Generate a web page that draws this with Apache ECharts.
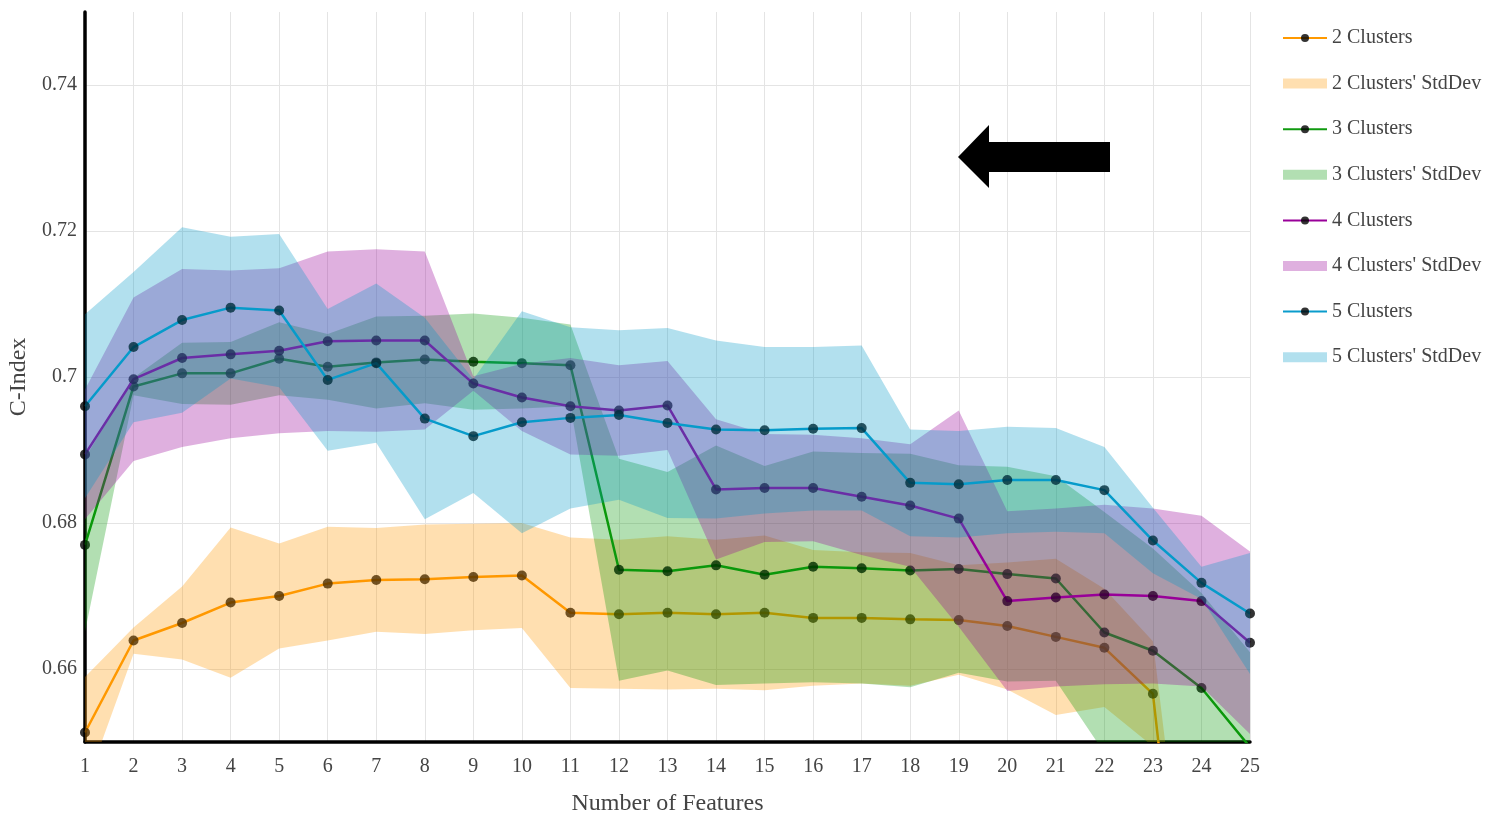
<!DOCTYPE html>
<html><head><meta charset="utf-8">
<script src="https://cdn.jsdelivr.net/npm/echarts@6/dist/echarts.min.js"></script>
<style>html,body{margin:0;padding:0;background:#fff}#c{width:1509px;height:816px}</style>
</head><body><div id="c"></div>
<script>
// ---- data ----
const features = [1,2,3,4,5,6,7,8,9,10,11,12,13,14,15,16,17,18,19,20,21,22,23,24,25];
const yTickLabels = ['0.66','0.68','0.7','0.72','0.74'];

const mean2 = [0.6513,0.6639,0.6663,0.6691,0.6700,0.6717,0.6722,0.6723,0.6726,0.6728,0.6677,0.6675,0.6677,0.6675,0.6677,0.6670,0.6670,0.6668,0.6667,0.6659,0.6644,0.6629,0.6566,0.5980,0.5900];
const std2  = [0.0076,0.0018,0.0050,0.0103,0.0072,0.0078,0.0071,0.0075,0.0073,0.0072,0.0103,0.0102,0.0105,0.0102,0.0106,0.0093,0.0090,0.0091,0.0075,0.0087,0.0107,0.0081,0.0072,0.0110,0.0100];

const mean3 = [0.6770,0.6987,0.7005,0.7005,0.7025,0.7014,0.7020,0.7024,0.7021,0.7019,0.7016,0.6736,0.6734,0.6742,0.6729,0.6740,0.6738,0.6735,0.6737,0.6730,0.6724,0.6650,0.6625,0.6574,0.6493];
const std3  = [0.0119,0.0012,0.0042,0.0043,0.0050,0.0045,0.0063,0.0060,0.0066,0.0062,0.0056,0.0152,0.0136,0.0164,0.0149,0.0158,0.0158,0.0160,0.0142,0.0147,0.0140,0.0165,0.0140,0.0130,0.0130];

const mean4 = [0.6894,0.6997,0.7026,0.7031,0.7036,0.7049,0.7050,0.7050,0.6991,0.6972,0.6960,0.6954,0.6961,0.6846,0.6848,0.6848,0.6836,0.6824,0.6806,0.6693,0.6698,0.6702,0.6700,0.6693,0.6636];
const std4  = [0.0089,0.0112,0.0122,0.0115,0.0113,0.0123,0.0125,0.0122,0.0010,0.0046,0.0066,0.0062,0.0061,0.0096,0.0074,0.0073,0.0080,0.0084,0.0148,0.0123,0.0122,0.0123,0.0120,0.0117,0.0125];

const mean5 = [0.6960,0.7041,0.7078,0.7095,0.7091,0.6996,0.7019,0.6943,0.6919,0.6938,0.6944,0.6948,0.6937,0.6928,0.6927,0.6929,0.6930,0.6855,0.6853,0.6859,0.6859,0.6845,0.6776,0.6718,0.6676];
const std5  = [0.0126,0.0103,0.0127,0.0097,0.0105,0.0097,0.0109,0.0138,0.0078,0.0152,0.0124,0.0116,0.0130,0.0122,0.0114,0.0112,0.0113,0.0073,0.0073,0.0073,0.0071,0.0059,0.0045,0.0022,0.0083];

// ---- chart ----
const FONT = '"Liberation Serif", "Times New Roman", serif';
const TXT = '#444';
const chart = echarts.init(document.getElementById('c'));

function lineSeries(name, mean, color, z) {
  return {
    name, type: 'line', z, clip: true, animation: false,
    data: features.map((f, i) => [f, mean[i]]),
    symbol: 'circle', symbolSize: 10, showSymbol: true,
    lineStyle: { color, width: 2.5 },
    itemStyle: { color: 'rgba(0,0,0,0.8)' },
    emphasis: { disabled: true }
  };
}
function bandSeries(name, mean, std, color, z) {
  const rows = features.map((f, i) => [f, mean[i] - std[i], mean[i] + std[i]]);
  return {
    name, type: 'custom', z, clip: true, silent: true, animation: false,
    data: rows, encode: { x: 0, y: [1, 2] },
    itemStyle: { color },
    renderItem(params, api) {
      if (params.dataIndex !== 0) return null;
      const up = rows.map(r => api.coord([r[0], r[2]]));
      const lo = rows.map(r => api.coord([r[0], r[1]])).reverse();
      return { type: 'polygon', shape: { points: up.concat(lo) }, style: { fill: color } };
    }
  };
}

const C2 = '#ff9900', B2 = 'rgba(255,153,0,0.31)';
const C3 = '#109a10', B3 = 'rgba(0,150,0,0.30)';
const C4 = '#990099', B4 = 'rgba(152,0,152,0.31)';
const C5 = '#0a9ccc', B5 = 'rgba(0,152,198,0.30)';

chart.setOption({
  animation: false,
  backgroundColor: '#fff',
  grid: { left: 85, right: 259, top: 12, bottom: 74, containLabel: false, outerBoundsMode: 'none' },
  xAxis: {
    type: 'value', min: 1, max: 25, interval: 1,
    name: 'Number of Features', nameLocation: 'middle', nameGap: 50,
    nameTextStyle: { fontFamily: FONT, fontSize: 24, color: TXT },
    axisLine: { show: true, onZero: false, lineStyle: { color: '#000', width: 3.5 } },
    axisTick: { show: false },
    axisLabel: { fontFamily: FONT, fontSize: 20, color: TXT, margin: 15 },
    splitLine: { show: true, lineStyle: { color: '#e4e4e4', width: 1 } }
  },
  yAxis: {
    type: 'value', min: 0.65, max: 0.75, interval: 0.01,
    name: 'C-Index', nameLocation: 'middle', nameGap: 53,
    nameTextStyle: { fontFamily: FONT, fontSize: 24, color: TXT },
    axisLine: { show: true, onZero: false, lineStyle: { color: '#000', width: 3.5 } },
    axisTick: { show: false },
    axisLabel: {
      fontFamily: FONT, fontSize: 20, color: TXT, margin: 8,
      formatter: v => { const s = String(Math.round(v * 100) / 100); return yTickLabels.includes(s) ? s : ''; }
    },
    splitLine: { show: true, lineStyle: { color: ['rgba(0,0,0,0)', '#e4e4e4'], width: 1 } }
  },
  legend: {
    orient: 'vertical', left: 1277, top: 23, itemWidth: 44, itemHeight: 10, itemGap: 25.6,
    selectedMode: false,
    textStyle: { fontFamily: FONT, fontSize: 20, color: TXT },
    data: [
      '2 Clusters', { name: "2 Clusters' StdDev", icon: 'rect' },
      '3 Clusters', { name: "3 Clusters' StdDev", icon: 'rect' },
      '4 Clusters', { name: "4 Clusters' StdDev", icon: 'rect' },
      '5 Clusters', { name: "5 Clusters' StdDev", icon: 'rect' }
    ]
  },
  graphic: [{
    type: 'polygon', silent: true, z: 100,
    shape: { points: [[958,157],[989,125],[989,142],[1110,142],[1110,172],[989,172],[989,188]] },
    style: { fill: '#000' }
  }],
  series: [
    lineSeries('2 Clusters', mean2, C2, 2),
    bandSeries("2 Clusters' StdDev", mean2, std2, B2, 3),
    lineSeries('3 Clusters', mean3, C3, 4),
    bandSeries("3 Clusters' StdDev", mean3, std3, B3, 5),
    lineSeries('4 Clusters', mean4, C4, 6),
    bandSeries("4 Clusters' StdDev", mean4, std4, B4, 7),
    lineSeries('5 Clusters', mean5, C5, 8),
    bandSeries("5 Clusters' StdDev", mean5, std5, B5, 9)
  ]
});
</script></body></html>
